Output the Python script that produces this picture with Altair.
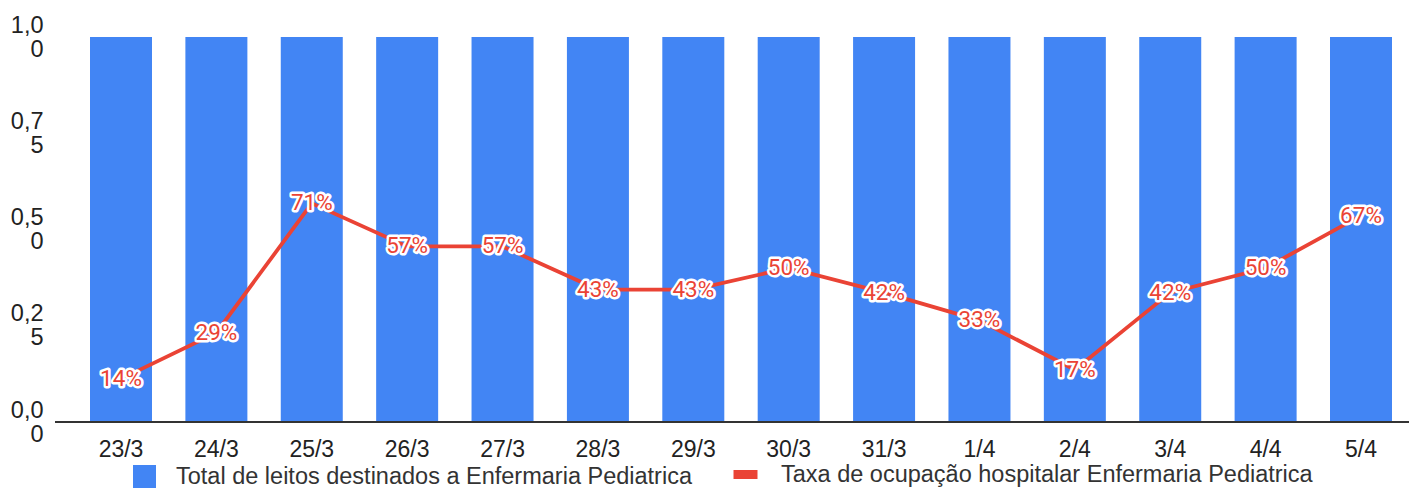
import altair as alt
import pandas as pd

datas = ["23/3", "24/3", "25/3", "26/3", "27/3", "28/3", "29/3", "30/3",
         "31/3", "1/4", "2/4", "3/4", "4/4", "5/4"]
total_leitos = [1.0] * 14
taxa = [0.14, 0.29, 0.71, 0.57, 0.57, 0.43, 0.43, 0.50, 0.42, 0.33, 0.17, 0.42, 0.50, 0.67]

S1 = "Total de leitos destinados a Enfermaria Pediatrica"
S2 = "Taxa de ocupação hospitalar Enfermaria Pediatrica"
BLUE = "#4285F4"
RED = "#EA4335"

df = pd.DataFrame({"data": datas, "total": total_leitos, "taxa": taxa})

W = 1354
H = 385

xscale = alt.Scale(domain=datas, range=[35, 1337], paddingInner=0.35, paddingOuter=0)
xenc = alt.X("data:N", sort=datas, scale=xscale,
             axis=alt.Axis(title=None, labelAngle=0, domain=False, ticks=False,
                           labelFont="Liberation Sans", labelFontSize=23,
                           labelColor="#222222", labelPadding=16))

leg_common = dict(title=None, orient="none", direction="horizontal",
                  labelFont="Liberation Sans", labelFontSize=23.5, labelColor="#333333",
                  labelLimit=800)

label_expr = ("[slice(replace(format(datum.value,'.2f'),'.',','),0,3),"
              " slice(replace(format(datum.value,'.2f'),'.',','),3)]")

bars = alt.Chart(df).mark_bar(color=BLUE).encode(
    x=xenc,
    y=alt.Y("total:Q", scale=alt.Scale(domain=[0, 1], nice=False),
            axis=alt.Axis(title=None, values=[0, 0.25, 0.5, 0.75, 1.0],
                          labelExpr=label_expr, domain=False, ticks=False, grid=False,
                          labelFont="Liberation Sans", labelFontSize=23.5,
                          labelColor="#222222", labelAlign="right",
                          labelLineHeight=24, labelPadding=12, labelOffset=-12)),
    color=alt.Color("s:N", scale=alt.Scale(domain=[S1], range=[BLUE]),
                    legend=alt.Legend(legendX=77, legendY=427, symbolType="square",
                                      symbolSize=529, labelOffset=19, **leg_common)),
).transform_calculate(s="'" + S1 + "'")

base_rule = alt.Chart(df).mark_rule(color="#333333", strokeWidth=2).encode(
    y=alt.datum(0)
)

bottom = alt.layer(bars, base_rule)

yline = alt.Y("taxa:Q", scale=alt.Scale(domain=[0, 1.25], nice=False), axis=None)

line = alt.Chart(df).mark_line(strokeWidth=3.8).encode(
    x=alt.X("data:N", sort=datas, scale=xscale),
    y=yline,
    stroke=alt.Stroke("s:N", scale=alt.Scale(domain=[S2], range=[RED]),
                      legend=alt.Legend(legendX=674, legendY=421, symbolType="stroke",
                                        symbolSize=576, symbolStrokeWidth=9,
                                        symbolStrokeColor=RED, labelOffset=19,
                                        **leg_common)),
).transform_calculate(s="'" + S2 + "'")

halo = alt.Chart(df).mark_text(font="Roboto", fontSize=22.5, fill="white",
                               stroke="white", strokeWidth=5, strokeJoin="round",
                               baseline="middle").encode(
    x=alt.X("data:N", sort=datas, scale=xscale),
    y=yline,
    text=alt.Text("taxa:Q", format=".0%"),
)
labels = alt.Chart(df).mark_text(font="Roboto", fontSize=22.5, fill=RED,
                                 baseline="middle").encode(
    x=alt.X("data:N", sort=datas, scale=xscale),
    y=yline,
    text=alt.Text("taxa:Q", format=".0%"),
)

top = alt.layer(line, halo, labels)

chart = alt.layer(bottom, top).resolve_scale(y="independent").properties(
    width=W, height=H,
    autosize=alt.AutoSizeParams(type="none"),
    padding={"left": 47, "top": 29, "right": 0, "bottom": 66},
).configure_view(stroke=None)

chart.save("out.html", embed_options={"renderer": "svg", "actions": False})
